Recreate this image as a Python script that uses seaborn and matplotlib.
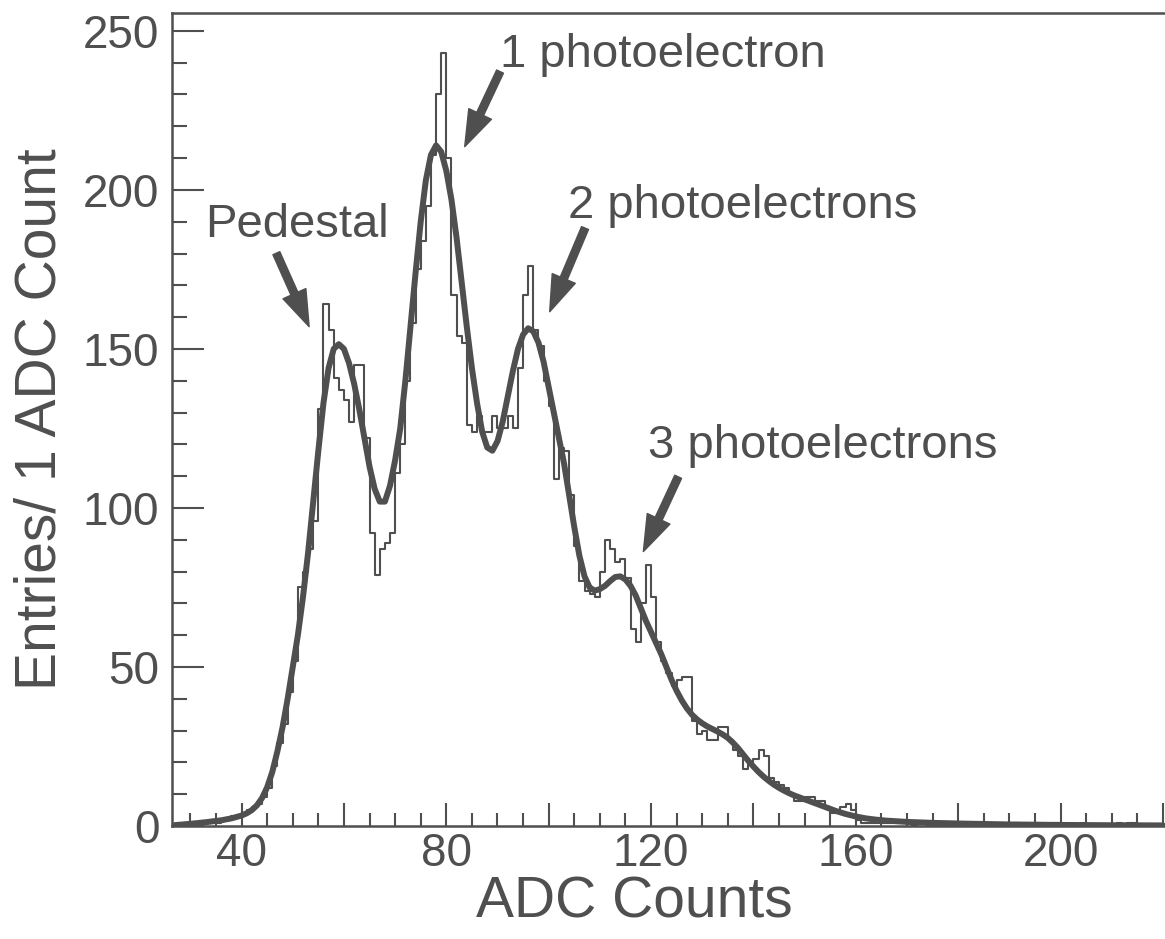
import numpy as np
import pandas as pd
import matplotlib
matplotlib.use("Agg")
import matplotlib.pyplot as plt
from matplotlib.ticker import MultipleLocator, FuncFormatter
import seaborn as sns

# histogram: one bin per ADC count, left edges 27 .. 219
bin_left = list(range(27, 220))
counts = [
    0, 0, 1,                                            # 27-29
    0, 1, 1, 1, 2, 1, 2, 2, 3, 3,                       # 30-39
    4, 5, 6, 7, 9, 12, 19, 26, 32, 42,                  # 40-49
    52, 75, 80, 87, 96, 131, 164, 156, 141, 137,        # 50-59
    134, 127, 145, 145, 122, 92, 79, 87, 89, 92,        # 60-69
    111, 120, 140, 158, 175, 184, 195, 211, 230, 243,   # 70-79
    210, 167, 154, 152, 126, 124, 129, 124, 124, 129,   # 80-89
    125, 125, 129, 125, 144, 167, 176, 156, 151, 140,   # 90-99
    132, 109, 119, 118, 104, 88, 77, 74, 73, 72,        # 100-109
    80, 90, 87, 83, 84, 78, 62, 58, 70, 82,             # 110-119
    72, 58, 52, 48, 44, 46, 47, 47, 33, 29,             # 120-129
    30, 27, 27, 31, 31, 27, 24, 22, 18, 20,             # 130-139
    21, 24, 22, 15, 14, 13, 12, 10, 8, 8,               # 140-149
    9, 9, 8, 8, 6, 4, 4, 6, 7, 5,                       # 150-159
    2, 1, 1, 1, 1, 1, 1, 2, 1, 1,                       # 160-169
    1, 0, 1, 1, 0, 1, 1, 0, 1, 0,                       # 170-179
    1, 0, 0, 1, 0, 1, 0, 0, 1, 0,                       # 180-189
    0, 1, 0, 0, 0, 1, 0, 0, 0, 1,                       # 190-199
    0, 0, 0, 0, 1, 0, 0, 0, 0, 0,                       # 200-209
    0, 1, 0, 1, 1, 0, 0, 0, 0, 0,                       # 210-219
]

# fitted curve
fit_x = [27, 30, 33, 36, 38, 40, 41, 42, 43, 44, 45, 46, 47, 48, 49,
         50, 51, 52, 53, 54, 55, 56, 57, 58, 59, 60, 61, 62, 63, 64, 65, 66, 67, 68, 69,
         70, 71, 72, 73, 74, 75, 76, 77, 78, 79, 80, 81, 82, 83, 84, 85, 86, 87, 88, 89,
         90, 91, 92, 93, 94, 95, 96, 97, 98, 99, 100, 101, 102, 103, 104, 105, 106, 107,
         108, 109, 110, 111, 112, 113, 114, 115, 116, 117, 118, 119, 120, 121, 122, 123,
         124, 125, 126, 127, 128, 129, 130, 131, 132, 133, 134, 135, 136, 137, 138, 139,
         140, 141, 142, 143, 144, 145, 146, 147, 148, 149, 150, 151, 152, 153, 154, 155,
         156, 157, 158, 159, 160, 162, 164, 166, 168, 170, 175, 180, 185, 190, 200, 210, 220]
fit_y = [0.3, 0.7, 1.2, 1.8, 2.4, 3.3, 4.0, 5.0, 6.5, 8.8, 12.2, 17, 23.5, 31, 40,
         50, 60, 72, 86, 102, 118, 133, 144, 150, 151.5, 150, 145.5, 139, 131, 122, 113, 106, 102, 102, 107,
         115, 125, 140, 157, 174, 190, 203, 211, 214, 212, 206, 197, 185, 171, 157, 144, 133, 124, 119, 118,
         121, 127, 135, 143, 150, 154.5, 156.5, 155.5, 152, 146, 138, 130, 122, 114, 104, 94, 85, 78.5,
         75, 74, 74.5, 75.5, 77, 78.3, 78.5, 77.5, 75.5, 72.5, 68.5, 64.5, 61, 57.5, 54, 50,
         46, 42.5, 39.5, 37, 35, 33.5, 32.3, 31.3, 30.5, 29.7, 28.8, 27.7, 26.2, 24.5, 22.5, 20.5,
         18.7, 17, 15.5, 14.2, 13, 12, 11.1, 10.3, 9.6, 9, 8.4, 7.8, 7.2, 6.6, 6, 5.4,
         4.8, 4.3, 3.8, 3.4, 3.0, 2.4, 2.0, 1.7, 1.5, 1.3, 1.0, 0.8, 0.65, 0.5, 0.35, 0.25, 0.2]

# annotations: label, text position, arrow tail, arrow tip
labels = ["Pedestal", "1 photoelectron", "2 photoelectrons", "3 photoelectrons"]
label_xy = [(32.8, 185.3), (90.5, 238.7), (103.8, 191.1), (119.4, 115.6)]
arrow_tail = [(46.8, 180.1), (90.5, 237.2), (107.1, 188.0), (125.3, 109.8)]
arrow_tip = [(53.2, 157.0), (83.6, 213.6), (100.2, 161.7), (118.5, 86.3)]

GREY = "#4f4f4f"

sns.set_theme(style="ticks")
plt.rcParams["font.family"] = ["Liberation Sans", "DejaVu Sans"]

df = pd.DataFrame({"adc": np.array(bin_left) + 0.5, "n": counts})
edges = list(range(bin_left[0], bin_left[-1] + 2))

fig = plt.figure(figsize=(11.65, 9.39), dpi=100)
ax = fig.add_axes([0.1476, 0.1203, 0.855, 0.8658])

sns.histplot(data=df, x="adc", weights="n", bins=edges, element="step",
             fill=False, color=GREY, linewidth=1.5, ax=ax)
sns.lineplot(x=fit_x, y=fit_y, color=GREY, linewidth=4.3, ax=ax)

for txt, (tx, ty), tail, tip in zip(labels, label_xy, arrow_tail, arrow_tip):
    ax.text(tx, ty, txt, fontsize=34, color=GREY, ha="left", va="baseline")
    ax.annotate("", xy=tip, xytext=tail,
                arrowprops=dict(arrowstyle="simple,head_length=1.3,head_width=0.9,tail_width=0.27",
                                color=GREY, mutation_scale=20, shrinkA=0, shrinkB=0))

ax.set_xlim(26.4, 221)
ax.set_ylim(0, 255.6)

ax.xaxis.set_major_locator(MultipleLocator(20))
ax.xaxis.set_minor_locator(MultipleLocator(5))
ax.xaxis.set_major_formatter(FuncFormatter(lambda v, p: f"{int(v)}" if int(round(v)) % 40 == 0 else ""))
ax.yaxis.set_major_locator(MultipleLocator(50))
ax.yaxis.set_minor_locator(MultipleLocator(10))

ax.tick_params(axis="both", which="both", direction="in", colors=GREY, width=1.5,
               top=False, right=False, labelsize=33)
ax.tick_params(axis="x", which="major", length=16.5, pad=4)
ax.tick_params(axis="x", which="minor", length=9.5)
ax.tick_params(axis="y", which="major", length=23, pad=9)
ax.tick_params(axis="y", which="minor", length=11)

for s in ax.spines.values():
    s.set_color(GREY)
    s.set_linewidth(1.8)
ax.spines["right"].set_visible(False)

ax.set_xlabel("ADC Counts", fontsize=41, color=GREY)
ax.set_ylabel("Entries/ 1 ADC Count", fontsize=41, color=GREY)
ax.xaxis.set_label_coords(0.464, -0.061)
ax.yaxis.set_label_coords(-0.105, 0.5)

fig.savefig("out.png", dpi=100)
